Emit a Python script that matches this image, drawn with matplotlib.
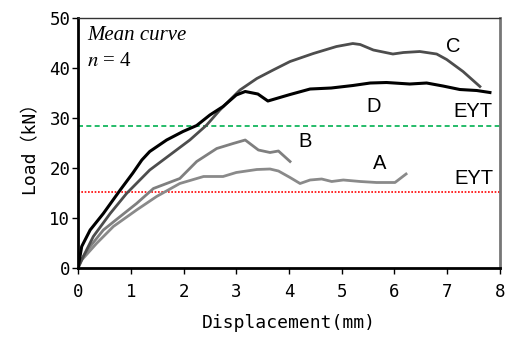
import matplotlib
matplotlib.use("Agg")
import matplotlib.pyplot as plt

# Curve A
a_x = [0, 0.07, 0.35, 0.67, 1.11, 1.49, 1.93, 2.38, 2.75, 3.0, 3.39, 3.64, 3.8, 4.02, 4.21, 4.4, 4.62, 4.81, 5.03, 5.35, 5.66, 6.01, 6.22]
a_y = [0, 1.6, 4.9, 8.3, 11.6, 14.3, 16.9, 18.3, 18.3, 19.1, 19.7, 19.8, 19.4, 18.1, 16.9, 17.6, 17.8, 17.3, 17.6, 17.3, 17.1, 17.1, 18.8]
# Curve B
b_x = [0, 0.04, 0.23, 0.48, 0.8, 1.11, 1.43, 1.68, 1.93, 2.25, 2.63, 2.94, 3.17, 3.42, 3.64, 3.8, 4.02]
b_y = [0, 1.3, 4.3, 7.6, 10.3, 12.9, 15.9, 16.9, 17.9, 21.3, 23.9, 24.9, 25.6, 23.6, 23.1, 23.4, 21.3]
# Curve C
c_x = [0, 0.1, 0.29, 0.61, 0.92, 1.36, 1.74, 2.12, 2.44, 2.69, 3.07, 3.39, 3.7, 4.02, 4.46, 4.9, 5.21, 5.35, 5.6, 5.97, 6.17, 6.48, 6.8, 6.99, 7.3, 7.62]
c_y = [0, 2.3, 6.3, 10.9, 14.9, 19.6, 22.6, 25.6, 28.6, 31.6, 35.6, 37.9, 39.6, 41.3, 42.9, 44.3, 44.9, 44.7, 43.6, 42.8, 43.1, 43.3, 42.8, 41.7, 39.3, 36.3]
# Curve D
d_x = [0, 0.07, 0.23, 0.48, 0.8, 1.04, 1.21, 1.36, 1.68, 1.99, 2.25, 2.5, 2.75, 3.0, 3.17, 3.41, 3.6, 3.89, 4.02, 4.4, 4.8, 5.21, 5.54, 5.85, 6.29, 6.61, 6.92, 7.24, 7.56, 7.81]
d_y = [0, 4.3, 7.6, 10.9, 15.6, 19.0, 21.6, 23.3, 25.6, 27.3, 28.5, 30.6, 32.3, 34.6, 35.3, 34.8, 33.4, 34.3, 34.7, 35.8, 36.0, 36.5, 37.0, 37.1, 36.8, 37.0, 36.4, 35.7, 35.5, 35.1]

eyt_upper = 28.4
eyt_lower = 15.1

x_ticks = [0, 1, 2, 3, 4, 5, 6, 7, 8]
y_ticks = [0, 10, 20, 30, 40, 50]

mono = ['DejaVu Sans Mono', 'Noto Sans CJK JP']

fig = plt.figure(figsize=(5.05, 3.4), dpi=100)
ax = fig.add_axes([0.1545, 0.2118, 0.8355, 0.7352])

ax.axhline(eyt_upper, color='#00b050', ls=(0, (3, 2)), lw=1.2)
ax.axhline(eyt_lower, color='#ff0000', ls=(0, (1, 1)), lw=1.2)

ax.plot(a_x, a_y, color='#8a8a8a', lw=2.0, solid_joinstyle='round')
ax.plot(b_x, b_y, color='#7f7f7f', lw=2.0, solid_joinstyle='round')
ax.plot(c_x, c_y, color='#4d4d4d', lw=2.0, solid_joinstyle='round')
ax.plot(d_x, d_y, color='#000000', lw=2.2, solid_joinstyle='round')

ax.set_xlim(0, 8)
ax.set_ylim(0, 50)
ax.set_xticks(x_ticks)
ax.set_yticks(y_ticks)
ax.tick_params(axis='x', direction='out', length=4, width=1, labelsize=12.5, pad=7)
ax.tick_params(axis='y', direction='out', length=4.5, width=1, labelsize=12.5, pad=1)
for lab in ax.get_xticklabels() + ax.get_yticklabels():
    lab.set_family(mono)

for side in ['left', 'bottom']:
    ax.spines[side].set_linewidth(2)
    ax.spines[side].set_color('black')
ax.spines['top'].set_linewidth(1)
ax.spines['top'].set_color('#333333')
ax.spines['right'].set_linewidth(2)
ax.spines['right'].set_color('#777777')

ax.set_xlabel('Displacement(mm)', family=mono, fontsize=13, labelpad=9)
ax.set_ylabel('Load（kN）', family=mono, fontsize=13, labelpad=8)

lab_kw = dict(fontsize=14.5, family='Liberation Sans', ha='center', va='center')
ax.text(7.11, 44.3, 'C', **lab_kw)
ax.text(5.61, 32.4, 'D', **lab_kw)
ax.text(7.49, 31.3, 'EYT', **lab_kw)
ax.text(4.3, 25.3, 'B', **lab_kw)
ax.text(5.71, 20.9, 'A', **lab_kw)
ax.text(7.51, 17.9, 'EYT', **lab_kw)

ax.text(0.17, 46.6, 'Mean curve', family='Liberation Serif', style='italic', fontsize=15, va='center', ha='left')
ax.text(0.17, 41.3, '$n$ = 4', family='Liberation Serif', fontsize=15, va='center', ha='left', math_fontfamily='stix')

fig.savefig('out.png', dpi=100)
